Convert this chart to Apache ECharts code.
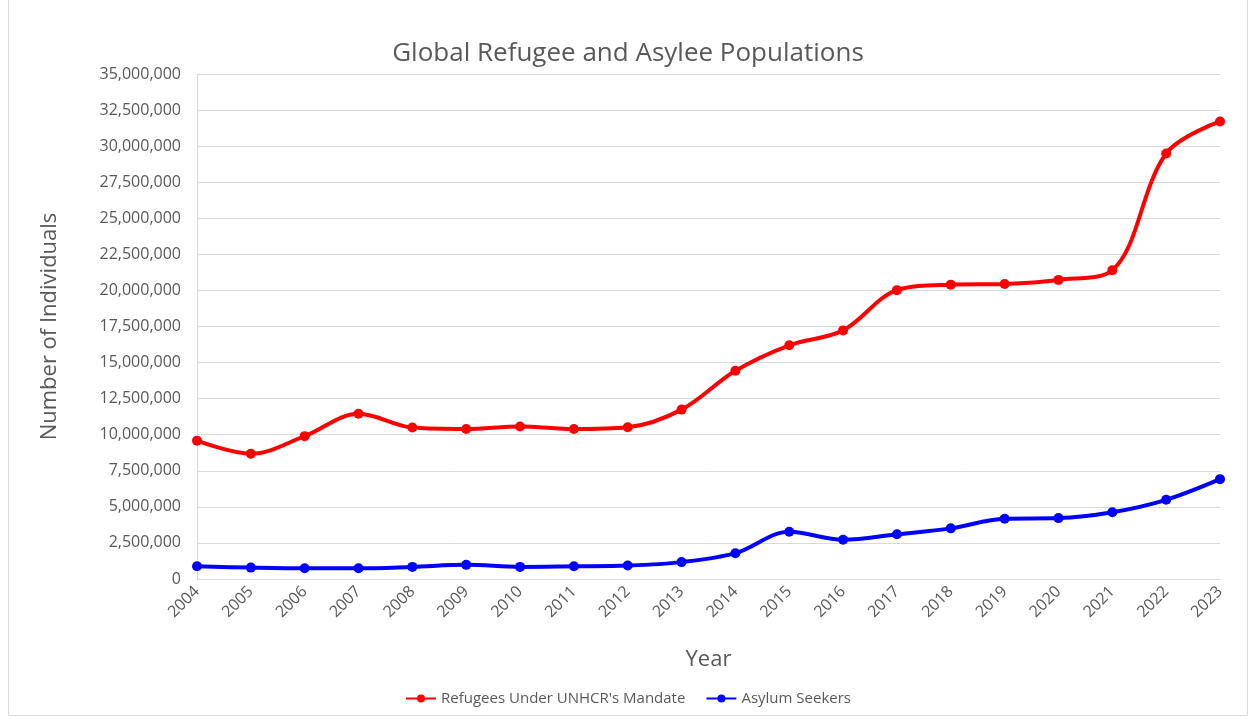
<!DOCTYPE html>
<html>
<head>
<meta charset="utf-8">
<script src="https://cdn.jsdelivr.net/npm/echarts@6/dist/echarts.min.js"></script>
<style>
  html,body{margin:0;padding:0;background:#fff;}
  #main{position:absolute;left:8px;top:0;width:1240px;height:716px;border:1px solid #d9d9d9;border-top:none;box-sizing:border-box;}
</style>
</head>
<body>
<div id="main"></div>
<script>
// years on the x axis
var years = ['2004','2005','2006','2007','2008','2009','2010','2011','2012','2013',
             '2014','2015','2016','2017','2018','2019','2020','2021','2022','2023'];
// refugees under UNHCR mandate
var refugees = [9590000, 8680000, 9900000, 11450000, 10500000, 10400000, 10570000, 10400000, 10520000, 11740000,
                14430000, 16200000, 17230000, 20020000, 20400000, 20450000, 20730000, 21400000, 29490000, 31710000];
// asylum seekers
var asylum = [880000, 790000, 740000, 740000, 840000, 980000, 840000, 880000, 930000, 1170000,
              1790000, 3270000, 2720000, 3100000, 3510000, 4180000, 4220000, 4630000, 5490000, 6920000];

var txt = '#595959';
var font = '"Open Sans", "Noto Sans", sans-serif';

var myChart = echarts.init(document.getElementById('main'));
var option = {
    animation: false,
    backgroundColor: '#fff',
    textStyle: { fontFamily: font },
    title: {
        text: 'Global Refugee and Asylee Populations',
        left: 'center',
        top: 36,
        textStyle: { color: txt, fontSize: 26, fontWeight: 'normal', fontFamily: font }
    },
    legend: {
        bottom: 4,
        left: 'center',
        itemWidth: 30,
        itemHeight: 10,
        itemGap: 20,
        textStyle: { color: txt, fontSize: 15, fontFamily: font },
        data: ["Refugees Under UNHCR's Mandate", 'Asylum Seekers']
    },
    grid: {
        left: 188,
        right: 27,
        top: 74,
        bottom: 136
    },
    xAxis: {
        type: 'category',
        data: years,
        boundaryGap: false,
        name: 'Year',
        nameLocation: 'middle',
        nameGap: 70,
        nameTextStyle: { color: txt, fontSize: 22, fontFamily: font },
        axisLine: { lineStyle: { color: '#d9d9d9', width: 1 } },
        axisTick: { show: false },
        axisLabel: { rotate: 45, color: txt, fontSize: 16, margin: 10 }
    },
    yAxis: {
        type: 'value',
        min: 0,
        max: 35000000,
        interval: 2500000,
        name: 'Number of Individuals',
        nameLocation: 'middle',
        nameGap: 136,
        nameTextStyle: { color: txt, fontSize: 22, fontFamily: font },
        axisLine: { show: true, lineStyle: { color: '#d9d9d9' } },
        axisTick: { show: false },
        splitLine: { lineStyle: { color: '#d9d9d9', width: 1 } },
        axisLabel: {
            color: txt,
            fontSize: 16,
            margin: 16,
            formatter: function (v) { return v.toLocaleString('en-US'); }
        }
    },
    series: [{
        name: "Refugees Under UNHCR's Mandate",
        type: 'line',
        data: refugees,
        smooth: 0.35,
        symbol: 'circle',
        symbolSize: 10,
        itemStyle: { color: '#ff0000' },
        lineStyle: { color: '#ff0000', width: 4 }
    }, {
        name: 'Asylum Seekers',
        type: 'line',
        data: asylum,
        smooth: 0.35,
        symbol: 'circle',
        symbolSize: 10,
        itemStyle: { color: '#0000ff' },
        lineStyle: { color: '#0000ff', width: 4 }
    }]
};
myChart.setOption(option);
</script>
</body>
</html>
